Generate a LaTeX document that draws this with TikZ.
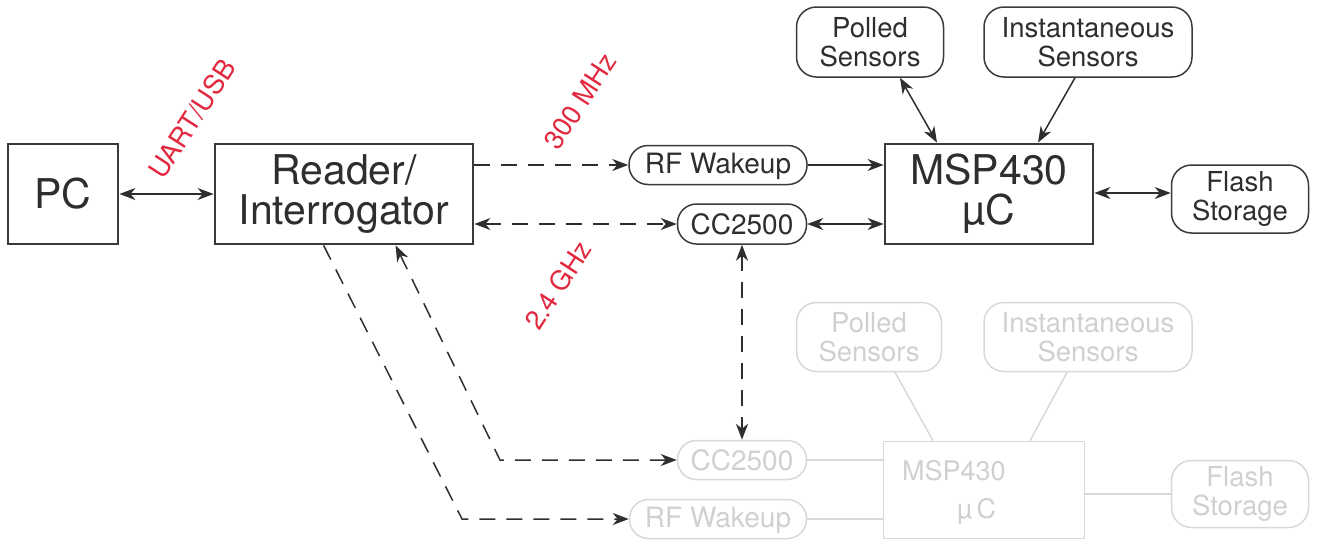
\documentclass[tikz,border=0pt]{standalone}
\usepackage{fontspec}
\setmainfont{TeX Gyre Heros}
\usetikzlibrary{arrows.meta,calc}
\definecolor{ink}{HTML}{2E2E2E}
\definecolor{edge}{HTML}{3A3A3A}
\definecolor{faint}{HTML}{D8D8D8}
\definecolor{fainttext}{HTML}{D0D0D0}
\definecolor{lab}{HTML}{E2283E}
\begin{document}
\begin{tikzpicture}[x=1pt,y=-1pt,
  >={Stealth[length=16pt,width=12pt,inset=5pt]},
  bigbox/.style={draw=edge, line width=2.8pt, inner sep=0pt, align=center, text=ink, font=\fontsize{41}{40}\selectfont},
  pill/.style={draw=edge, line width=1.5pt, rounded corners=19pt, inner sep=0pt, align=center, text=ink, font=\fontsize{28}{28}\selectfont},
  sbox/.style={draw=edge, line width=1.5pt, rounded corners=20pt, inner sep=0pt, align=center, text=ink, font=\fontsize{27.5}{28.5}\selectfont},
  gbig/.style={draw=faint, line width=1.5pt, inner sep=0pt},
  gpill/.style={pill, draw=faint, text=fainttext},
  gsbox/.style={sbox, draw=faint, text=fainttext},
  conn/.style={draw=ink, line width=1.5pt},
  dconn/.style={conn, dash pattern=on 16pt off 11pt},
  gconn/.style={draw=faint, line width=1.5pt},
  lbl/.style={text=lab, font=\fontsize{27}{27}\selectfont, inner sep=0pt},
  gtxt/.style={text=fainttext, font=\fontsize{27}{27}\selectfont, inner sep=0pt, anchor=base west}
]
\useasboundingbox (0,0) rectangle (1317,539);

% top diagram
\node[bigbox, minimum width=110pt, minimum height=100pt] (pc) at (63,194) {PC};
\node[bigbox, minimum width=258pt, minimum height=100pt] (reader) at (344,194) {Reader/\\Interrogator};
\node[bigbox, minimum width=208pt, minimum height=100pt] (msp) at (989,194) {MSP430\\\textmu C};
\node[pill, minimum width=178pt, minimum height=39pt, text depth=3pt] (rf) at (718,165) {RF Wakeup};
\node[pill, minimum width=129pt, minimum height=40pt] (cc) at (742,224) {CC2500};
\node[sbox, minimum width=147pt, minimum height=70pt] (polled) at (870,42) {Polled\\Sensors};
\node[sbox, minimum width=208pt, minimum height=70pt] (inst) at (1088,42) {Instantaneous\\Sensors};
\node[sbox, minimum width=137pt, minimum height=68pt] (flash) at (1240,199) {Flash\\Storage};

% labels
\node[lbl, rotate=57] (uart) at (192,119) {UART/USB};
\node[lbl, rotate=57] (mhz) at (580,101) {300 MHz};
\node[lbl, rotate=57] (ghz) at (558,285) {2.4 GHz};

% top connectors
\draw[conn,<->] (pc.east) -- (reader.west);
\draw[dconn,->] (rf.west -| reader.east) -- (rf.west);
\draw[dconn,<->] (cc.west -| reader.east) -- (cc.west);
\draw[conn,->] (rf.east) -- (rf.east -| msp.west);
\draw[conn,<->] (cc.east) -- (cc.east -| msp.west);
\draw[conn,<->] (msp.east |- 0,193) -- (flash.west |- 0,193);
\draw[conn,<->] ($(polled.south)+(30,0)$) -- ($(msp.north)+(-52,0)$);
\draw[conn,->] ($(inst.south)+(-13,0)$) -- ($(msp.north)+(49,0)$);

% lower (faded) diagram
\node[gbig, minimum width=201pt, minimum height=97pt] (mspg) at (984,490) {};
\node[gtxt] (mspgt1) at (902,480) {MSP430};
\node[gtxt] (mspgt2) at (957,518) {\textmu\,C};
\node[gpill, minimum width=129pt, minimum height=39pt] (ccg) at (742,460) {CC2500};
\node[gpill, minimum width=177pt, minimum height=39pt, text depth=3pt] (rfg) at (718,519) {RF Wakeup};
\node[gsbox, minimum width=145pt, minimum height=69pt] (polledg) at (869,337) {Polled\\Sensors};
\node[gsbox, minimum width=208pt, minimum height=69pt] (instg) at (1088,337) {Instantaneous\\Sensors};
\node[gsbox, minimum width=137pt, minimum height=67pt] (flashg) at (1240,494) {Flash\\Storage};

\draw[gconn] (ccg.east) -- (ccg.east -| mspg.west);
\draw[gconn] (rfg.east) -- (rfg.east -| mspg.west);
\draw[gconn] (mspg.east |- flashg.west) -- (flashg.west);
\draw[gconn] ($(polledg.south)+(26,0)$) -- ($(mspg.north)+(-51,0)$);
\draw[gconn] ($(instg.south)+(-21,0)$) -- ($(mspg.north)+(46,0)$);

% radio links between the two nodes
\coordinate (k1) at (462,519);
\coordinate (k2) at (500,460);
\draw[dconn,<->] (cc.south) -- (ccg.north);
\draw[dconn,->] ($(reader.south west)+(110,0)$) -- (k1) -- (rfg.west);
\draw[dconn,<->] ($(reader.south west)+(182,0)$) -- (k2) -- (ccg.west);
\end{tikzpicture}
\end{document}
